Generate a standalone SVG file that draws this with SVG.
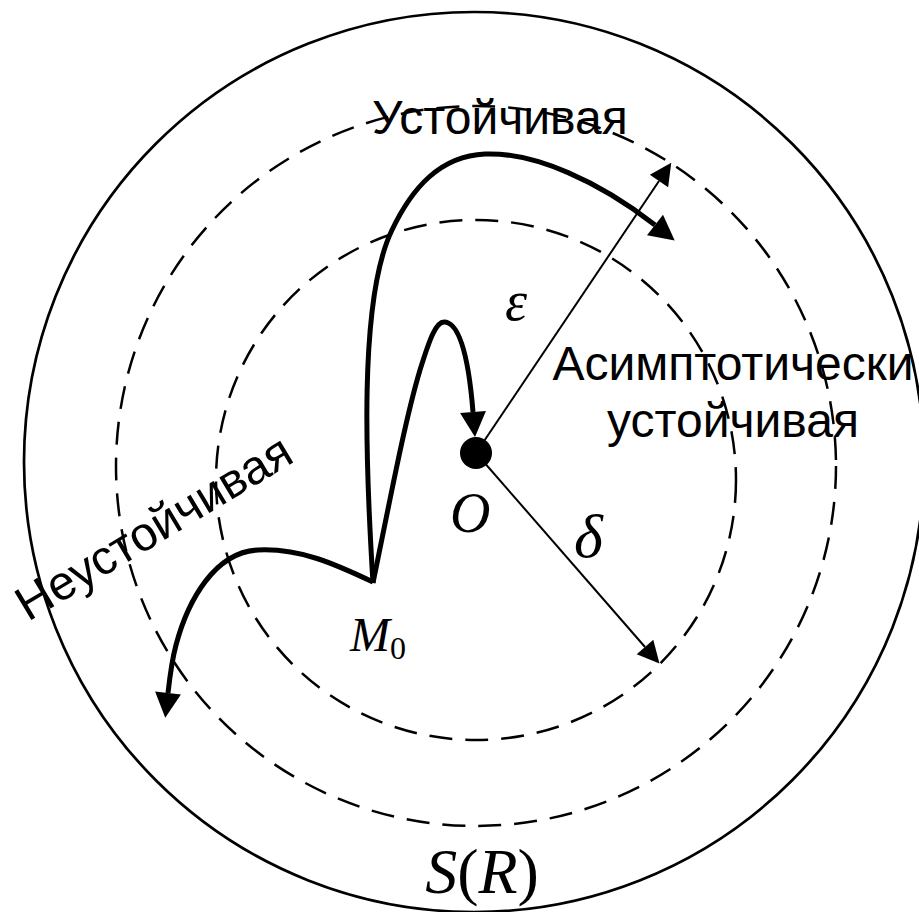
<svg xmlns="http://www.w3.org/2000/svg" width="919" height="912" viewBox="0 0 919 912">
<style>
.bg{fill:#fff}
.outer{fill:none;stroke:#000;stroke-width:2.7}
.dash{fill:none;stroke:#000;stroke-width:2.5;stroke-dasharray:23 13}
.thin{fill:none;stroke:#000;stroke-width:2}
.thick{fill:none;stroke:#000;stroke-width:5;stroke-linejoin:round}
.lbl{font-family:"Liberation Sans",Arial,sans-serif;font-size:48px;fill:#000}
.math{font-family:"Liberation Serif","Times New Roman",serif;font-style:italic;fill:#000}
.up{font-style:normal}
</style>
<defs>
<marker id="ahThin" markerUnits="userSpaceOnUse" markerWidth="22" markerHeight="22" refX="0" refY="11" orient="auto" overflow="visible">
<path d="M0,0 L22,11 L0,22 z" fill="#000"/>
</marker>
<marker id="ahThick" markerUnits="userSpaceOnUse" markerWidth="26" markerHeight="26" refX="0" refY="13" orient="auto" overflow="visible">
<path d="M0,0 L25,13 L0,26 z" fill="#000"/>
</marker>
</defs>
<rect class="bg" x="0" y="0" width="919" height="912"/>
<g id="outer-circle"><circle class="outer" cx="474" cy="462" r="450"/></g>
<g id="eps-circle"><circle class="dash" cx="476" cy="466" r="360"/></g>
<g id="delta-circle"><circle class="dash" cx="476" cy="480" r="260"/></g>
<g id="connectors">
<path id="eps-radius" class="thin" d="M476 453 L659 181" marker-end="url(#ahThin)"/>
<path id="delta-radius" class="thin" d="M476 453 L645 647" marker-end="url(#ahThin)"/>
<path id="traj-stable" class="thick" d="M373 583 C366 470 358 300 392 230 C412 188 440 156 485 154 C535 152 600 182 655 225" marker-end="url(#ahThick)"/>
<path id="traj-asymptotic" class="thick" d="M373 583 C390 500 405 420 420 370 C430 338 436 322 444 322 C458 322 468 350 473 412" marker-end="url(#ahThick)"/>
<path id="traj-unstable" class="thick" d="M373 582 C335 564 300 548 258 550 C215 552 188 600 176 645 C172 660 170 675 168 693" marker-end="url(#ahThick)"/>
</g>
<g id="origin">
<circle cx="476" cy="453" r="16" fill="#000"/>
<text class="math" x="450" y="532" font-size="56">O</text>
</g>
<g id="label-eps"><text class="math" x="505" y="320" font-size="56">ε</text></g>
<g id="label-delta"><text class="math" x="574" y="557" font-size="62">δ</text></g>
<g id="label-M0"><text class="math" x="350" y="651" font-size="48">M<tspan class="up" font-size="32" y="659">0</tspan></text></g>
<g id="label-SR"><text class="math" x="482" y="893" font-size="64" text-anchor="middle">S<tspan class="up">(</tspan>R<tspan class="up">)</tspan></text></g>
<g id="label-stable"><text class="lbl" x="372" y="134">Устойчивая</text></g>
<g id="label-asymptotic"><text class="lbl" x="733" y="380" text-anchor="middle">Асимптотически</text><text class="lbl" x="733" y="437" text-anchor="middle">устойчивая</text></g>
<g id="label-unstable"><text class="lbl" transform="translate(28 622) rotate(-31)">Неустойчивая</text></g>
</svg>
